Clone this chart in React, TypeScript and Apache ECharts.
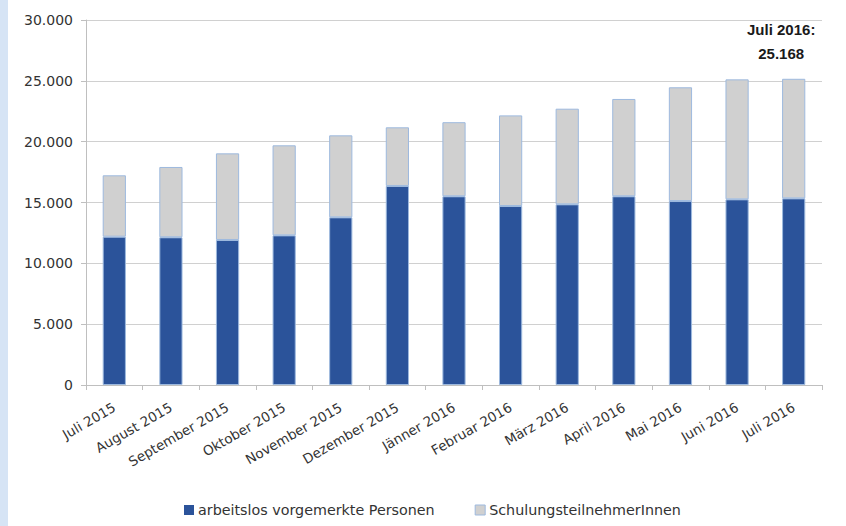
import React, { useEffect, useRef } from "react";
import * as echarts from "echarts";

const categories = [
  "Juli 2015", "August 2015", "September 2015", "Oktober 2015", "November 2015",
  "Dezember 2015", "Jänner 2016", "Februar 2016", "März 2016", "April 2016",
  "Mai 2016", "Juni 2016", "Juli 2016",
];
const arbeitslos = [12190, 12140, 11920, 12300, 13780, 16360, 15510, 14710, 14850, 15510, 15120, 15260, 15340];
const totals = [17235, 17920, 19040, 19700, 20520, 21180, 21600, 22160, 22710, 23510, 24470, 25120, 25168];
const schulung = totals.map((t, i) => t - arbeitslos[i]);
const yTicks = [0, 5000, 10000, 15000, 20000, 25000, 30000];

const fmtDots = (v: number) => String(v).replace(/\B(?=(\d{3})+(?!\d))/g, ".");

export default function App() {
  const ref = useRef<HTMLDivElement>(null);
  useEffect(() => {
    document.body.style.margin = "0";
    if (!ref.current) return;
    const chart = echarts.init(ref.current, undefined, { renderer: "svg" });
    const font = "'DejaVu Sans', sans-serif";
    const last = categories.length - 1;
    chart.setOption({
      animation: false,
      backgroundColor: "transparent",
      textStyle: { fontFamily: font },
      grid: { left: 78, right: 24, top: 20, bottom: 141, containLabel: false },
      legend: {
        bottom: 4,
        left: 171,
        itemWidth: 10,
        itemHeight: 10,
        itemGap: 40,
        icon: "rect",
        textStyle: { fontFamily: font, fontSize: 14.3, color: "#333", padding: [0, 0, 0, -1] },
        data: [
          { name: "arbeitslos vorgemerkte Personen", itemStyle: { color: "#2B539A", borderColor: "#2B539A", borderWidth: 0 } },
          { name: "SchulungsteilnehmerInnen", itemStyle: { color: "#D0D0D0", borderColor: "#9DB9DE", borderWidth: 1 } },
        ],
      },
      xAxis: {
        type: "category",
        data: categories,
        boundaryGap: true,
        axisLine: { lineStyle: { color: "#BFBFBF", width: 1 } },
        axisTick: { show: true, length: 5, lineStyle: { color: "#BFBFBF" } },
        axisLabel: { rotate: 30, fontSize: 13.5, color: "#333", fontFamily: font, margin: 21, interval: 0 },
      },
      yAxis: {
        type: "value",
        min: 0,
        max: 30000,
        interval: 5000,
        axisLine: { show: true, lineStyle: { color: "#BFBFBF" } },
        axisTick: { show: true, length: 5, lineStyle: { color: "#BFBFBF" } },
        splitLine: { lineStyle: { color: "#D0D0D0", width: 1 } },
        axisLabel: {
          fontSize: 14,
          color: "#333",
          fontFamily: font,
          margin: 13,
          formatter: (v: number) => (yTicks.includes(v) ? fmtDots(v) : ""),
        },
      },
      series: [
        {
          name: "arbeitslos vorgemerkte Personen",
          type: "bar",
          stack: "total",
          barWidth: "41%",
          data: arbeitslos,
          itemStyle: { color: "#2B539A", borderColor: "#9DB9DE", borderWidth: 1 },
        },
        {
          name: "SchulungsteilnehmerInnen",
          type: "bar",
          stack: "total",
          barWidth: "41%",
          data: schulung.map((v, i) =>
            i === last
              ? {
                  value: v,
                  label: {
                    show: true,
                    position: "top",
                    distance: 13,
                    offset: [-12.5, 0],
                    formatter: () => `Juli 2016:\n${fmtDots(totals[last])}`,
                    fontFamily: "'Liberation Sans', Arial, sans-serif",
                    fontWeight: "bold",
                    fontSize: 15,
                    lineHeight: 24,
                    color: "#1a1a1a",
                    align: "center",
                  },
                }
              : v
          ),
          itemStyle: { color: "#D0D0D0", borderColor: "#9DB9DE", borderWidth: 1 },
        },
      ],
    });
    return () => chart.dispose();
  }, []);
  return (
    <div style={{ width: 846, height: 526, background: "#D6E4F5", display: "flex" }}>
      <div style={{ width: 8, flex: "none" }} />
      <div ref={ref} style={{ width: 838, height: 526, background: "#ffffff", flex: "none" }} />
    </div>
  );
}
